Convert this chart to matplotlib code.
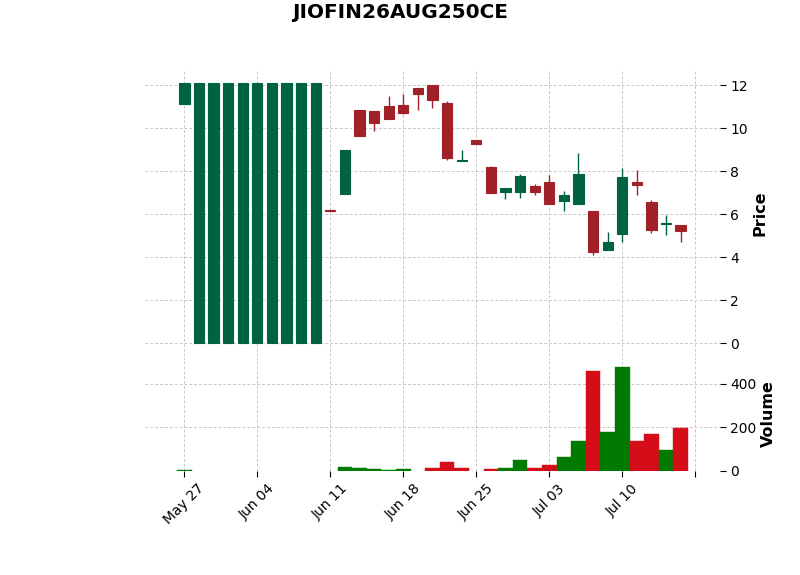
import matplotlib
matplotlib.use("Agg")
import matplotlib.pyplot as plt

# daily option data, one entry per session
dates = [
    "May 27", "May 28", "May 29", "May 30", "Jun 02",
    "Jun 04", "Jun 05", "Jun 06", "Jun 09", "Jun 10",
    "Jun 11", "Jun 12", "Jun 13", "Jun 16", "Jun 17",
    "Jun 18", "Jun 19", "Jun 20", "Jun 23", "Jun 24",
    "Jun 25", "Jun 26", "Jun 27", "Jun 30", "Jul 01",
    "Jul 03", "Jul 04", "Jul 07", "Jul 08", "Jul 09",
    "Jul 10", "Jul 11", "Jul 14", "Jul 15", "Jul 16",
]
opens = [11.13, 0.0, 0.0, 0.0, 0.0, 0.0, 0.0, 0.0, 0.0, 0.0,
         6.20, 6.92, 10.85, 10.81, 11.01, 11.06, 11.89, 12.03, 11.18, 8.45,
         9.46, 8.21, 7.02, 7.05, 7.30, 7.49, 6.60, 6.49, 6.13, 4.35,
         5.09, 7.50, 6.55, 5.55, 5.51]
highs = [12.11, 12.11, 12.11, 12.11, 12.11, 12.11, 12.11, 12.11, 12.11, 12.11,
         6.20, 9.00, 10.85, 10.81, 11.50, 11.58, 11.89, 12.03, 11.26, 8.98,
         9.46, 8.25, 7.22, 7.88, 7.42, 7.83, 7.07, 8.86, 6.13, 5.17,
         8.16, 8.06, 6.66, 5.96, 5.51]
lows = [11.13, 0.0, 0.0, 0.0, 0.0, 0.0, 0.0, 0.0, 0.0, 0.0,
        6.15, 6.92, 9.65, 9.86, 10.44, 10.65, 10.84, 10.93, 8.52, 8.45,
        9.24, 6.97, 6.68, 6.76, 6.91, 6.49, 6.16, 6.49, 4.11, 4.35,
        4.70, 6.90, 5.12, 5.03, 4.70]
closes = [12.11, 12.11, 12.11, 12.11, 12.11, 12.11, 12.11, 12.11, 12.11, 12.11,
          6.15, 9.00, 9.65, 10.22, 10.44, 10.72, 11.61, 11.32, 8.61, 8.50,
          9.24, 7.00, 7.20, 7.77, 7.05, 6.49, 6.91, 7.86, 4.25, 4.72,
          7.72, 7.35, 5.28, 5.60, 5.20]
volumes = [3, 0, 0, 0, 0, 0, 0, 0, 0, 0,
           0, 17, 12, 8, 3, 8, 0, 12, 40, 12,
           0, 8, 12, 49, 12, 26, 63, 136, 457, 177,
           475, 136, 168, 95, 195]

title = "JIOFIN26AUG250CE"

UP = "#006340"
DOWN = "#a02128"
VUP = "#007a00"
VDOWN = "#d50d18"
GRID = "#c8c8c8"


def style_axis(ax):
    for spine in ax.spines.values():
        spine.set_visible(False)
    ax.grid(True, linestyle=(0, (3, 2)), color=GRID, linewidth=0.7)
    ax.set_axisbelow(True)
    ax.yaxis.tick_right()
    ax.yaxis.set_label_position("right")
    ax.tick_params(axis="y", length=4, labelsize=10)


def plot_candles(ax):
    n = len(opens)
    for i in range(n):
        color = UP if closes[i] >= opens[i] else DOWN
        ax.vlines(i, lows[i], highs[i], color=color, linewidth=1.0, zorder=2)
        lo = min(opens[i], closes[i])
        h = abs(closes[i] - opens[i])
        ax.bar(i, h, bottom=lo, width=0.7, color=color, edgecolor=color,
               linewidth=0.8, zorder=3)
    ax.set_ylim(-0.6, 12.71)
    ax.set_yticks(range(0, 13, 2))
    ax.set_ylabel("Price", fontsize=11.5, fontweight="bold", labelpad=3)
    ax.tick_params(axis="x", bottom=False, labelbottom=False)


def plot_volume(ax):
    idx = []
    vals = []
    colors = []
    for i in range(len(closes)):
        if volumes[i] <= 0:
            continue
        idx.append(i)
        vals.append(volumes[i])
        if i == 0 or closes[i] >= closes[i - 1]:
            colors.append(VUP)
        else:
            colors.append(VDOWN)
    ax.bar(idx, vals, width=1.0, color=colors,
           edgecolor=colors, linewidth=0.3, zorder=3)
    ax.set_ylim(0, max(volumes) * 1.1)
    ax.set_yticks([0, 200, 400])
    ax.set_ylabel("Volume", fontsize=11.5, fontweight="bold", labelpad=3)
    ticks = list(range(0, len(dates) + 1, 5))
    labels = [dates[t] if t < len(dates) else "" for t in ticks]
    ax.set_xticks(ticks)
    ax.set_xticklabels(labels, rotation=45, fontsize=10)
    ax.tick_params(axis="x", length=4)


if __name__ == "__main__":
    fig = plt.figure(figsize=(8, 5.75), dpi=100)
    ax_price = fig.add_axes([0.18125, 0.381, 0.71875, 0.4974])
    ax_vol = fig.add_axes([0.18125, 0.1809, 0.71875, 0.1983], sharex=ax_price)

    style_axis(ax_price)
    style_axis(ax_vol)
    plot_candles(ax_price)
    plot_volume(ax_vol)
    ax_price.set_xlim(-2.7, 36.7)

    fig.suptitle(title, fontsize=14.4, fontweight="bold", x=0.5, y=0.968,
                 va="baseline")
    fig.savefig("out.png", dpi=100)
